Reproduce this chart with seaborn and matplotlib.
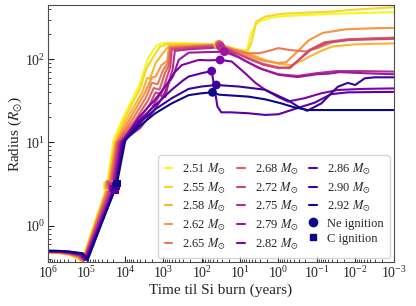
import numpy as np
import pandas as pd
import seaborn as sns
import matplotlib.pyplot as plt
from matplotlib.lines import Line2D
from matplotlib.ticker import LogLocator, NullFormatter, FixedLocator

# masses (Msun) and track data: log10(time til Si burn / yr), radius (Rsun)
masses = ["2.51", "2.55", "2.58", "2.62", "2.65", "2.68", "2.72",
          "2.75", "2.79", "2.82", "2.86", "2.90", "2.92"]

t_251 = [6.0, 5.7, 5.45, 5.25, 5.13, 4.47, 4.30, 4.0, 3.64, 3.38, 3.16, 2.95, 2.3, 1.8, 1.58,
         1.3, 1.0, 0.83, 0.71, 0.58, 0.45, 0.2, 0.0, -0.7, -1.37, -2.2, -3.0]
r_251 = [0.47, 0.465, 0.445, 0.405, 0.37, 3.0, 10.7, 22, 47, 107, 148, 158, 156, 152, 150,
         138, 128, 122, 208, 265, 290, 315, 326, 340, 351, 360, 367]

t_255 = [6.0, 5.7, 5.45, 5.24, 5.12, 4.45, 4.27, 3.95, 3.6, 3.45, 3.3, 3.1, 2.9, 2.3, 1.8, 1.56,
         1.3, 1.0, 0.8, 0.7, 0.58, 0.34, -0.07, -0.7, -1.37, -1.7, -2.2, -3.0]
r_255 = [0.472, 0.467, 0.448, 0.41, 0.372, 3.0, 10, 22, 45, 75, 100, 140, 152, 152, 151, 150,
         138, 130, 126, 160, 283, 326, 351, 362, 373, 385, 400, 421]

t_258 = [6.0, 5.7, 5.45, 5.23, 5.11, 4.43, 4.25, 3.9, 3.55, 3.42, 3.35, 3.2, 3.0, 2.85, 2.3, 1.8,
         1.55, 1.2, 0.8, 0.4, 0.0, -0.35, -0.6, -0.8, -1.1, -1.4, -2.0, -3.0]
r_258 = [0.475, 0.47, 0.452, 0.415, 0.374, 3.1, 10, 21, 40, 60, 58, 90, 120, 145, 148, 150,
         151, 135, 118, 100, 88, 85, 95, 107, 125, 142, 151, 155]

t_262 = [6.0, 5.7, 5.45, 5.22, 5.10, 4.41, 4.23, 3.85, 3.5, 3.3, 3.2, 3.05, 2.9, 2.85, 2.3, 1.8,
         1.55, 1.2, 0.8, 0.4, 0.0, -0.2, -0.45, -0.8, -1.15, -1.75, -2.5, -3.0]
r_262 = [0.478, 0.473, 0.455, 0.42, 0.376, 3.1, 10, 20, 38, 60, 62, 85, 95, 140, 145, 148,
         150, 132, 112, 96, 90, 92, 118, 170, 207, 229, 236, 238]

t_265 = [6.0, 5.7, 5.45, 5.21, 5.09, 4.39, 4.21, 3.8, 3.45, 3.3, 3.15, 3.0, 2.88, 2.82, 2.3, 1.8,
         1.54, 1.2, 0.8, 0.5, 0.2, 0.0, -0.3, -0.7, -1.0, -1.4, -2.0, -3.0]
r_265 = [0.48, 0.476, 0.458, 0.425, 0.378, 3.2, 10, 19, 35, 52, 50, 75, 90, 138, 142, 146,
         149, 130, 118, 118, 128, 136, 129, 124, 135, 160, 174, 178]

t_268 = [6.0, 5.7, 5.45, 5.2, 5.08, 4.37, 4.19, 3.75, 3.4, 3.25, 3.1, 2.95, 2.85, 2.8, 2.3, 1.8,
         1.53, 1.2, 0.8, 0.4, 0.0, -0.3, -0.5, -0.8, -1.2, -1.8, -3.0]
r_268 = [0.483, 0.479, 0.462, 0.43, 0.38, 3.1, 10, 18, 32, 45, 43, 70, 85, 135, 140, 144,
         147, 126, 105, 88, 80, 78, 95, 129, 160, 174, 182]

t_272 = [6.0, 5.7, 5.45, 5.19, 5.07, 4.35, 4.17, 3.7, 3.35, 3.2, 3.05, 2.9, 2.82, 2.78, 2.3, 1.8,
         1.52, 1.2, 0.8, 0.4, 0.0, -0.3, -0.55, -0.85, -1.25, -1.8, -3.0]
r_272 = [0.486, 0.482, 0.466, 0.435, 0.382, 3.0, 10, 17, 29, 40, 38, 62, 80, 130, 137, 141,
         145, 124, 102, 86, 78, 80, 100, 130, 158, 170, 176]

t_275 = [6.0, 5.7, 5.45, 5.18, 5.06, 4.33, 4.14, 3.65, 3.3, 3.1, 2.95, 2.85, 2.76, 2.7, 2.3, 1.8,
         1.5, 1.2, 0.8, 0.4, 0.0, -0.5, -1.0, -1.5, -2.2, -3.0]
r_275 = [0.489, 0.485, 0.47, 0.44, 0.384, 2.9, 10, 16, 26, 37, 35, 55, 75, 126, 132, 136,
         140, 118, 92, 75, 66, 63, 68, 72, 72, 71]

t_279 = [6.0, 5.7, 5.45, 5.17, 5.05, 4.31, 4.11, 3.6, 3.25, 3.0, 2.86, 2.75, 2.6, 2.34, 1.8,
         1.41, 1.05, 0.52, 0.0, -0.5, -1.0, -1.3, -1.6, -2.2, -3.0]
r_279 = [0.49, 0.487, 0.473, 0.445, 0.386, 2.8, 10, 15, 24, 36, 52, 62, 98, 120, 122,
         123, 106, 79, 65, 61, 66, 67, 70, 68, 66]

t_282 = [6.0, 5.7, 5.45, 5.15, 5.03, 4.28, 4.08, 3.64, 3.21, 2.95, 2.7, 2.52, 2.08, 1.8, 1.52,
         1.22, 0.87, 0.6, 0.35, 0.0, -0.25, -0.68, -1.12, -1.55, -2.2, -3.0]
r_282 = [0.493, 0.49, 0.477, 0.45, 0.388, 2.8, 10, 20, 33, 47, 70, 85, 98, 97, 98,
         94, 68, 52, 43, 35, 31, 34, 39, 42.7, 44, 44.6]

t_286 = [6.0, 5.7, 5.45, 5.13, 5.01, 4.26, 4.06, 3.64, 3.21, 2.78, 2.5, 2.34, 2.0, 1.74, 1.65,
         1.59, 1.49, 1.23, 0.78, 0.34, 0.0, -0.51, -0.94, -1.37, -1.81, -3.0]
r_286 = [0.495, 0.492, 0.48, 0.455, 0.39, 2.7, 10, 18, 28, 43, 55, 62, 68, 72, 40,
         27, 23, 23, 22.4, 21.4, 21.8, 26, 30, 38, 40, 40.5]

t_290 = [6.0, 5.7, 5.45, 5.11, 4.99, 4.23, 4.03, 3.64, 3.21, 2.78, 2.34, 2.0, 1.62, 1.04, 0.35,
         -0.25, -0.51, -0.75, -1.12, -1.4, -1.55, -1.81, -2.0, -2.25, -2.51, -3.0]
r_290 = [0.498, 0.495, 0.485, 0.46, 0.39, 3.0, 10, 17, 25, 34, 44, 47, 49, 47, 43,
         32, 27, 24, 29.5, 40, 46.8, 52, 49, 59, 60.6, 60.6]

t_292 = [6.0, 5.7, 5.45, 5.1, 4.97, 4.21, 3.99, 3.64, 3.21, 2.78, 2.34, 2.0, 1.72, 1.55, 0.78,
         0.35, -0.07, -0.4, -0.77, -1.5, -3.0]
r_292 = [0.50, 0.497, 0.488, 0.465, 0.39, 3.2, 10.7, 15.5, 22.4, 29.5, 37, 39, 40, 37.5, 35.5,
         33, 29.5, 26.5, 24.5, 24.5, 24.5]

# ignition points (log10 t, R)
ne_logt = [1.58, 1.56, 1.55, 1.55, 1.54, 1.53, 1.52, 1.5, 1.41, 1.52, 1.74, 1.62, 1.72]
ne_r = [150, 150, 151, 150, 149, 147, 145, 140, 123, 98, 72, 49, 40]
c_logt = [4.47, 4.45, 4.43, 4.41, 4.39, 4.37, 4.35, 4.33, 4.31, 4.28, 4.26, 4.23, 4.21]
c_r = [3.0, 3.0, 3.1, 3.1, 3.2, 3.1, 3.0, 2.9, 2.8, 2.8, 2.7, 3.0, 3.2]

xticks = [1e6, 1e5, 1e4, 1e3, 1e2, 1e1, 1e0, 1e-1, 1e-2, 1e-3]

tracks = [(t_251, r_251), (t_255, r_255), (t_258, r_258), (t_262, r_262), (t_265, r_265),
          (t_268, r_268), (t_272, r_272), (t_275, r_275), (t_279, r_279), (t_282, r_282),
          (t_286, r_286), (t_290, r_290), (t_292, r_292)]

rows = []
for m, (lt, r) in zip(masses, tracks):
    for a, b in zip(lt, r):
        rows.append({"mass": m, "t": 10 ** a, "R": b})
df = pd.DataFrame(rows)

ign = pd.DataFrame({"mass": masses,
                    "ne_t": 10 ** np.array(ne_logt), "ne_r": ne_r,
                    "c_t": 10 ** np.array(c_logt), "c_r": c_r})

sns.set_style("ticks")
plt.rcParams["font.family"] = ["Liberation Serif", "DejaVu Serif"]
plt.rcParams["mathtext.fontset"] = "stix"
plt.rcParams["xtick.direction"] = "in"
plt.rcParams["ytick.direction"] = "in"

cmap = sns.color_palette("plasma", as_cmap=True)
colors = [cmap(v) for v in np.linspace(1, 0, len(masses))]
pal = dict(zip(masses, colors))

fig, ax = plt.subplots(figsize=(4.16, 3.06), dpi=100)
fig.subplots_adjust(left=0.116, right=0.946, top=0.983, bottom=0.144)
ax.set_xscale("log")
ax.set_yscale("log")

sns.lineplot(data=df, x="t", y="R", hue="mass", hue_order=masses, palette=pal,
             estimator=None, sort=False, legend=False, lw=1.5, ax=ax)
sns.scatterplot(data=ign, x="ne_t", y="ne_r", hue="mass", hue_order=masses, palette=pal,
                marker="o", s=40, linewidth=0, legend=False, zorder=4, ax=ax)
sns.scatterplot(data=ign, x="c_t", y="c_r", hue="mass", hue_order=masses, palette=pal,
                marker="s", s=30, linewidth=0, legend=False, zorder=4, ax=ax)

ax.set_xlim(1e6, 1e-3)
ax.set_ylim(0.366, 446)
ax.xaxis.set_major_locator(FixedLocator(xticks))
ax.xaxis.set_minor_locator(LogLocator(base=10, subs=np.arange(2, 10), numticks=20))
ax.xaxis.set_minor_formatter(NullFormatter())
ax.set_xlabel("Time til Si burn (years)", fontsize=11, labelpad=2)
ax.set_ylabel(r"Radius ($R_{\odot}$)", fontsize=11, labelpad=1)
ax.tick_params(axis="both", which="major", labelsize=10, length=4, pad=2)
ax.tick_params(axis="both", which="minor", length=2)
for s in ax.spines.values():
    s.set_color("0.3")

handles = [Line2D([], [], color=pal[m], lw=1.5) for m in masses]
labels = [m + r" $M_{\odot}$" for m in masses]
handles.append(Line2D([], [], color=colors[-1], marker="o", ls="none", markersize=6))
labels.append("Ne ignition")
handles.append(Line2D([], [], color=colors[-1], marker="s", ls="none", markersize=5))
labels.append("C ignition")
ax.legend(handles, labels, loc="lower right", ncol=3, fontsize=9, handlelength=0.6,
          handletextpad=0.8, columnspacing=0.9, borderaxespad=0.3, labelspacing=0.25,
          borderpad=0.5)

fig.savefig("out.png", dpi=100)
